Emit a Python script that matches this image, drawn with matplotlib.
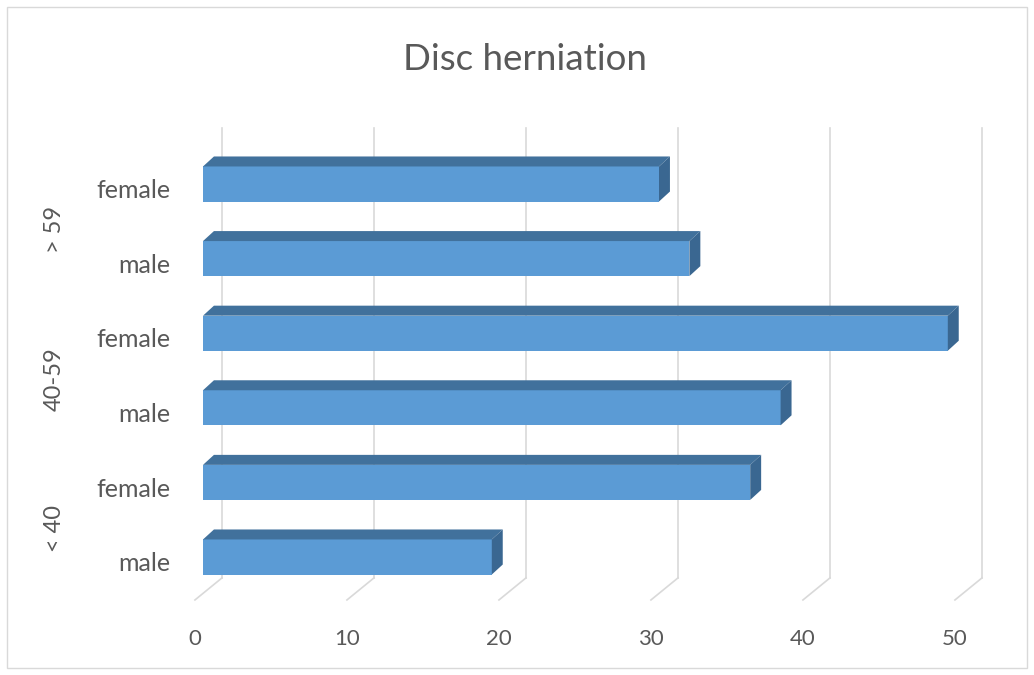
import matplotlib.pyplot as plt
from matplotlib.patches import Polygon, Rectangle

# chart data (bottom to top)
sexes = ['male', 'female', 'male', 'female', 'male', 'female']
age_groups = ['< 40', '40-59', '> 59']
values = [19, 36, 38, 49, 32, 30]
x_ticks = [0, 10, 20, 30, 40, 50]

front_col = '#5B9BD5'
top_col = '#41719C'
side_col = '#3A6791'
grid_col = '#D9D9D9'
text_col = '#595959'

fig = plt.figure(figsize=(10.34, 6.75), dpi=100)
ax = fig.add_axes([0, 0, 1, 1])
# map whole figure: 15.2 px per unit in x, 74.6 px per row in y
ax.set_xlim((0 - 203) / 15.2, (1034 - 203) / 15.2)
ax.set_ylim((557 - 675) / 74.6, 557 / 74.6)
ax.axis('off')

# outer frame
fig.patches.append(Rectangle((7 / 1034, 7 / 675), 1020 / 1034, 661 / 675,
                             transform=fig.transFigure, fill=False,
                             edgecolor='#D9D9D9', linewidth=1))

# 3d offsets (data units)
back = 1.25
front = -0.53
wall_bot = -0.28
wall_top = 5.75
floor_y = -0.576
dx = 0.72
dy = 0.134
h = 0.47

# back wall grid + floor lines
for v in x_ticks:
    ax.plot([v + back, v + back], [wall_bot, wall_top], color=grid_col, lw=1.2, zorder=1)
    ax.plot([v + back, v + front], [wall_bot, floor_y], color=grid_col, lw=1.2, zorder=1)
    ax.text(v + front, -1.18, str(v), ha='center', va='baseline',
            fontsize=16, color=text_col, family='Lato')

ys = list(range(len(values)))
ax.barh(ys, values, height=h, left=0, color=front_col, zorder=3)
for y, v in zip(ys, values):
    yt = y + h / 2
    yb = y - h / 2
    ax.add_patch(Polygon([(0, yt), (v, yt), (v + dx, yt + dy), (dx, yt + dy)],
                         closed=True, facecolor=top_col, edgecolor='none', zorder=3))
    ax.add_patch(Polygon([(v, yb), (v + dx, yb + dy), (v + dx, yt + dy), (v, yt)],
                         closed=True, facecolor=side_col, edgecolor='none', zorder=3))
    ax.text(-2.17, y - 0.19, sexes[y], ha='right', va='baseline', fontsize=18,
            color=text_col, family='Lato')

for i, g in enumerate(age_groups):
    ax.text(-9.8, 2 * i + 0.5 - 0.115, g, rotation=90, ha='center', va='center',
            fontsize=17, color=text_col, family='Lato')

fig.text(525 / 1034, 1 - 60 / 675, 'Disc herniation', ha='center', va='center',
         fontsize=26.5, color=text_col, family='Lato')

fig.savefig('out.png', dpi=100, facecolor='white')
